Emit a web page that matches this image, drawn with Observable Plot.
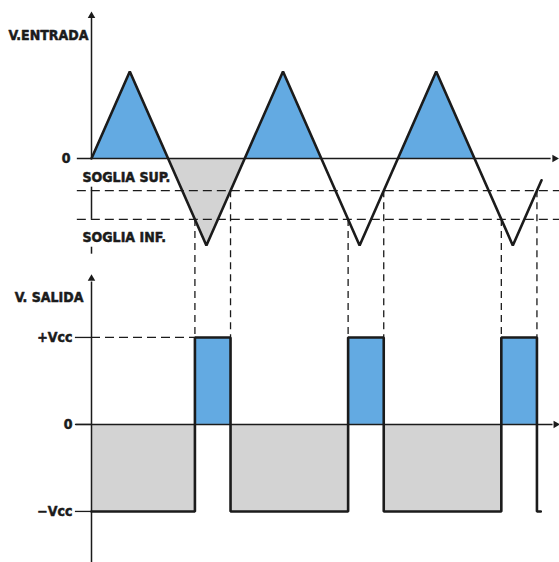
<!DOCTYPE html>
<html>
<head>
<meta charset="utf-8">
<script src="https://cdn.jsdelivr.net/npm/d3@7"></script>
<script src="https://cdn.jsdelivr.net/npm/@observablehq/plot@0.6"></script>
<style>
  html, body { margin: 0; padding: 0; background: #fff; }
  #chart svg { display: block; }
</style>
</head>
<body>
<div id="chart"></div>
<script>
// ---- data ----
const inputT = [0, 1, 2, 3, 4, 5, 6, 7, 8, 9, 10, 11, 11.75];
const inputV = [0, 1, 0, -1, 0, 1, 0, -1, 0, 1, 0, -1, -0.25];
const thresholdNames = ["SOGLIA SUP.", "SOGLIA INF."];
const thresholdValues = [-0.37, -0.70];
const switchUpT = [2.70, 6.70, 10.70];   // output goes to +Vcc
const switchDownT = [3.63, 7.63, 11.63]; // output goes to -Vcc
const outputEndT = 11.73;
const outputLevelNames = ["+Vcc", "0", "\u2212Vcc"];
const outputLevelValues = [1, 0, -1];
const inputAxisTitle = "V.ENTRADA";
const outputAxisTitle = "V. SALIDA";

// ---- layout (both panels share one y scale; output panel is shifted down) ----
const OUT0 = -3.057;
const BLUE = "#63aae2";
const GREY = "#d3d3d3";
const INK = "#1b1b1b";
const FONT = "'Liberation Sans Narrow', 'Arial Narrow', 'DejaVu Sans Condensed', 'Liberation Sans', sans-serif";

const input = inputT.map((t, i) => ({t, v: inputV[i]}));
const sup = thresholdValues[0], inf = thresholdValues[1];

// output intervals
const highs = switchUpT.map((t, i) => ({t1: t, t2: switchDownT[i]}));
const lows = [0, ...switchDownT.slice(0, -1)].map((t, i) => ({t1: t, t2: switchUpT[i]}));
const outLine = [{t: 0, o: -1}];
switchUpT.forEach((u, i) => {
  outLine.push({t: u, o: -1}, {t: u, o: 1}, {t: switchDownT[i], o: 1}, {t: switchDownT[i], o: -1});
});
outLine.push({t: outputEndT, o: -1});

const labelFont = {fontFamily: FONT, fontWeight: "bold", fontSize: 14, fill: INK, stroke: INK, strokeWidth: 0.5};

const chart = Plot.plot({
  width: 559,
  height: 562,
  margin: 0,
  x: {domain: [-2.376, 12.219], axis: null},
  y: {domain: [-4.644, 1.816], axis: null},
  marks: [
    // fills of input
    Plot.areaY(input, {x: "t", y1: 0, y2: d => Math.max(d.v, 0), fill: BLUE}),
    Plot.areaY(input.filter(d => d.t >= 2 && d.t <= 4), {x: "t", y1: 0, y2: d => Math.min(d.v, 0), fill: GREY}),
    // fills of output
    Plot.rectY(lows, {x1: "t1", x2: "t2", y1: OUT0, y2: OUT0 - 1, fill: GREY}),
    Plot.rectY(highs, {x1: "t1", x2: "t2", y1: OUT0, y2: OUT0 + 1, fill: BLUE}),

    // threshold dashed lines
    Plot.ruleY(thresholdValues, {x1: -0.37, x2: 12.22, stroke: INK, strokeWidth: 1.3, strokeDasharray: "9,5"}),
    // vertical dashed projections
    Plot.ruleX(switchUpT, {y1: inf, y2: OUT0 + 1, stroke: INK, strokeWidth: 1.3, strokeDasharray: "7,5"}),
    Plot.ruleX(switchDownT, {y1: sup, y2: OUT0 + 1, stroke: INK, strokeWidth: 1.3, strokeDasharray: "7,5"}),
    // +Vcc dashed guide
    Plot.ruleY([OUT0 + 1], {x1: 0, x2: switchUpT[0], stroke: INK, strokeWidth: 1.3, strokeDasharray: "9,5"}),

    // axes of input panel
    Plot.ruleY([0], {x1: -0.37, x2: 12.0, stroke: INK, strokeWidth: 1.5}),
    Plot.dot([0], {x: 12.09, y: 0, symbol: "triangle", r: 2.8, fill: INK, stroke: null, rotate: 90}),
    Plot.ruleX([0], {y1: 0, y2: 1.62, stroke: INK, strokeWidth: 1.5}),
    Plot.dot([0], {x: 0, y: 1.64, symbol: "triangle", r: 2.8, fill: INK, stroke: null}),
    Plot.ruleX([0], {y1: -0.33, y2: inf, stroke: INK, strokeWidth: 1.5}),
    Plot.ruleX([0], {y1: -1.02, y2: -1.10, stroke: INK, strokeWidth: 1.5}),

    // axes of output panel
    Plot.ruleY([OUT0], {x1: -0.40, x2: 12.05, stroke: INK, strokeWidth: 1.5}),
    Plot.dot([0], {x: 12.12, y: OUT0, symbol: "triangle", r: 2.8, fill: INK, stroke: null, rotate: 90}),
    Plot.ruleX([0], {y1: -1.42, y2: -4.644, stroke: INK, strokeWidth: 1.5}),
    Plot.dot([0], {x: 0, y: -1.38, symbol: "triangle", r: 2.8, fill: INK, stroke: null}),
    Plot.ruleY(outputLevelValues, {y: d => OUT0 + d, x1: -0.42, x2: 0, stroke: INK, strokeWidth: 1.3}),

    // waveforms
    Plot.line(input, {x: "t", y: "v", stroke: INK, strokeWidth: 2.6, strokeLinejoin: "miter"}),
    Plot.line(outLine, {x: "t", y: d => OUT0 + d.o, stroke: INK, strokeWidth: 2.6, strokeLinejoin: "miter"}),

    // texts
    Plot.text([inputAxisTitle], {x: 0, y: 1.41, text: d => d, textAnchor: "end", dx: -3, ...labelFont}),
    Plot.text(["0"], {x: 0, y: 0, text: d => d, textAnchor: "end", dx: -21, ...labelFont}),
    Plot.text([thresholdNames[0]], {x: 0, y: sup, text: d => d, textAnchor: "start", dx: -9, dy: -13, ...labelFont}),
    Plot.text([thresholdNames[1]], {x: 0, y: inf, text: d => d, textAnchor: "start", dx: -9, dy: 18, ...labelFont}),
    Plot.text([outputAxisTitle], {x: 0, y: OUT0 + 1.46, text: d => d, textAnchor: "end", dx: -8, ...labelFont}),
    Plot.text(outputLevelNames, {x: 0, y: (d, i) => OUT0 + outputLevelValues[i], text: d => d, textAnchor: "end", dx: -19, ...labelFont})
  ]
});
document.getElementById("chart").appendChild(chart);
</script>
</body>
</html>
